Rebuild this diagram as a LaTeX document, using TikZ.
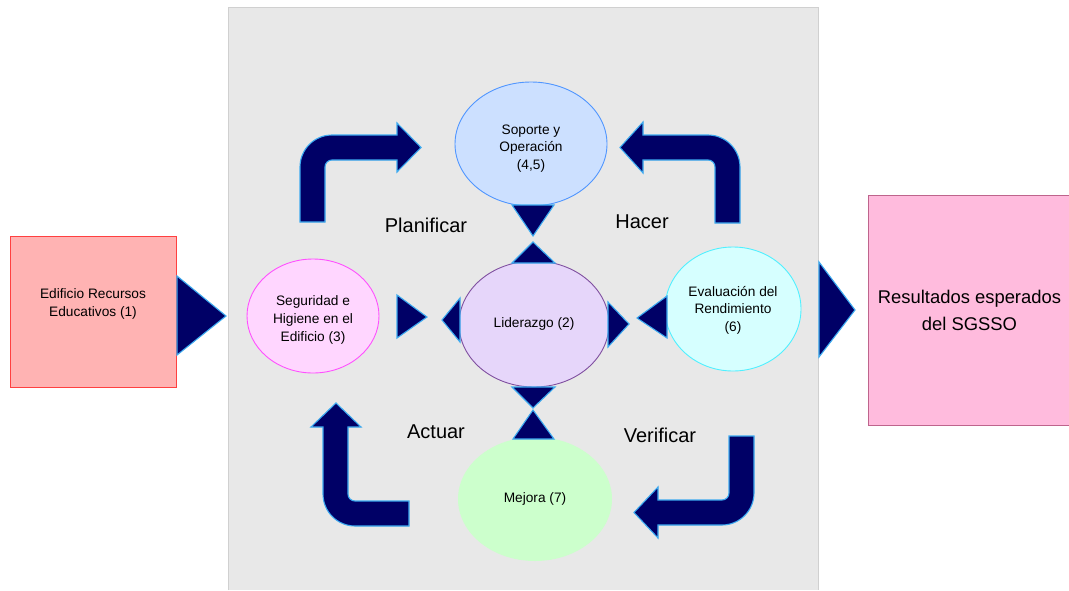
\documentclass[tikz,border=0pt]{standalone}
\usepackage{fontspec}
\setmainfont{Liberation Sans}
\usetikzlibrary{shapes.geometric}

\definecolor{navy}{RGB}{0,0,102}
\definecolor{arrowedge}{RGB}{60,170,240}
\definecolor{panel}{RGB}{232,232,232}
\definecolor{panelborder}{RGB}{208,208,208}

\tikzset{
  blockarrow/.style={fill=navy, draw=arrowedge, line width=1.1pt, line join=miter},
  etapa/.style={ellipse, inner sep=0pt, line width=0.9pt, align=center,
    font=\fontsize{13.7}{17.5}\selectfont},
  caja/.style={rectangle, inner sep=0pt, line width=0.9pt, align=center},
  fase/.style={font=\fontsize{20}{24}\selectfont},
}

\begin{document}
\begin{tikzpicture}[x=1pt, y=-1pt]

% Frame
\fill[white] (0,0) rectangle (1069,590);
\useasboundingbox (0,0) rectangle (1069,590);
\fill[panel] (228,7) rectangle (818,590);
\draw[panelborder, line width=1pt] (228,590) -- (228,7) -- (818,7) -- (818,590);

% Input and output
\node[caja, fill={rgb,255:red,255;green,179;blue,179}, draw={rgb,255:red,255;green,64;blue,64},
  minimum width=166, minimum height=151] (edificio) at (93,311.5) {};
\node[align=center, font=\fontsize{13.7}{17.5}\selectfont] (edificiotexto) at (93,304)
  {Edificio Recursos\\Educativos (1)};
\node[caja, fill={rgb,255:red,255;green,187;blue,221}, draw={rgb,255:red,190;green,100;blue,140},
  minimum width=203, minimum height=230, font=\fontsize{18.4}{27}\selectfont]
  (resultados) at (969.5,310) {Resultados esperados\\del SGSSO};

% Stages
\node[etapa, fill={rgb,255:red,204;green,224;blue,255}, draw={rgb,255:red,80;green,150;blue,255},
  minimum width=152, minimum height=124] (soporte) at (531,144)
  {\rule{0pt}{18pt}Soporte y\\Operación\\(4,5)};
\node[etapa, fill={rgb,255:red,255;green,214;blue,255}, draw={rgb,255:red,255;green,80;blue,255},
  minimum width=132, minimum height=114, font=\fontsize{13.7}{18}\selectfont] (seguridad) at (313,316)
  {\rule{0pt}{17pt}Seguridad e\\Higiene en el\\Edificio (3)};
\node[etapa, fill={rgb,255:red,230;green,214;blue,250}, draw={rgb,255:red,128;green,80;blue,160},
  minimum width=150, minimum height=126] (liderazgo) at (534,324) {Liderazgo (2)};
\node[etapa, fill={rgb,255:red,214;green,255;blue,255}, draw={rgb,255:red,80;green,240;blue,255},
  minimum width=136, minimum height=124] (evaluacion) at (733,309)
  {\rule{0pt}{12pt}Evaluación del\\Rendimiento\\(6)};
\node[etapa, fill={rgb,255:red,204;green,255;blue,204},
  minimum width=154, minimum height=124] (mejora) at (535,499) {Mejora (7)};

% Triangles
\filldraw[blockarrow] (177,276) -- (226,316) -- (177,355) -- cycle;
\filldraw[blockarrow] (819,262) -- (855,310) -- (819,357) -- cycle;
\filldraw[blockarrow] (512,205) -- (554,205) -- (533,236) -- cycle;
\filldraw[blockarrow] (512,263) -- (555,263) -- (533,242) -- cycle;
\filldraw[blockarrow] (460,298) -- (460,342) -- (442,320) -- cycle;
\filldraw[blockarrow] (608,302) -- (608,347) -- (629,324) -- cycle;
\filldraw[blockarrow] (397,295) -- (397,338) -- (427,317) -- cycle;
\filldraw[blockarrow] (667,296) -- (667,338) -- (637,318) -- cycle;
\filldraw[blockarrow] (512,387) -- (555,387) -- (533,408) -- cycle;
\filldraw[blockarrow] (513,439) -- (554,439) -- (533,410) -- cycle;

% Bent arrows
\filldraw[blockarrow] (300,222) -- (300,167) arc[start angle=180, end angle=270, radius=32]
  -- (397,135) -- (397,123) -- (421,147.5) -- (397,172) -- (397,160) -- (332,160)
  arc[start angle=270, end angle=180, radius=7] -- (325,222) -- cycle;
\filldraw[blockarrow] (715,223) -- (715,167) arc[start angle=0, end angle=-90, radius=7]
  -- (643,160) -- (643,173) -- (620,147.5) -- (643,122) -- (643,135) -- (708,135)
  arc[start angle=-90, end angle=0, radius=32] -- (740,223) -- cycle;
\filldraw[blockarrow] (409,501) -- (355,501) arc[start angle=90, end angle=180, radius=7]
  -- (348,427) -- (361,427) -- (336,403) -- (311,427) -- (323,427) -- (323,494)
  arc[start angle=180, end angle=90, radius=32] -- (409,526) -- cycle;
\filldraw[blockarrow] (729,436) -- (729,493) arc[start angle=0, end angle=90, radius=7]
  -- (658,500) -- (658,487) -- (634,512.5) -- (658,538) -- (658,525) -- (722,525)
  arc[start angle=90, end angle=0, radius=32] -- (754,436) -- cycle;

% Labels
\node[fase] (planificar) at (426,225) {Planificar};
\node[fase] (hacer) at (642,222) {Hacer};
\node[fase] (actuar) at (436,432) {Actuar};
\node[fase] (verificar) at (660,435) {Verificar};

\end{tikzpicture}
\end{document}
